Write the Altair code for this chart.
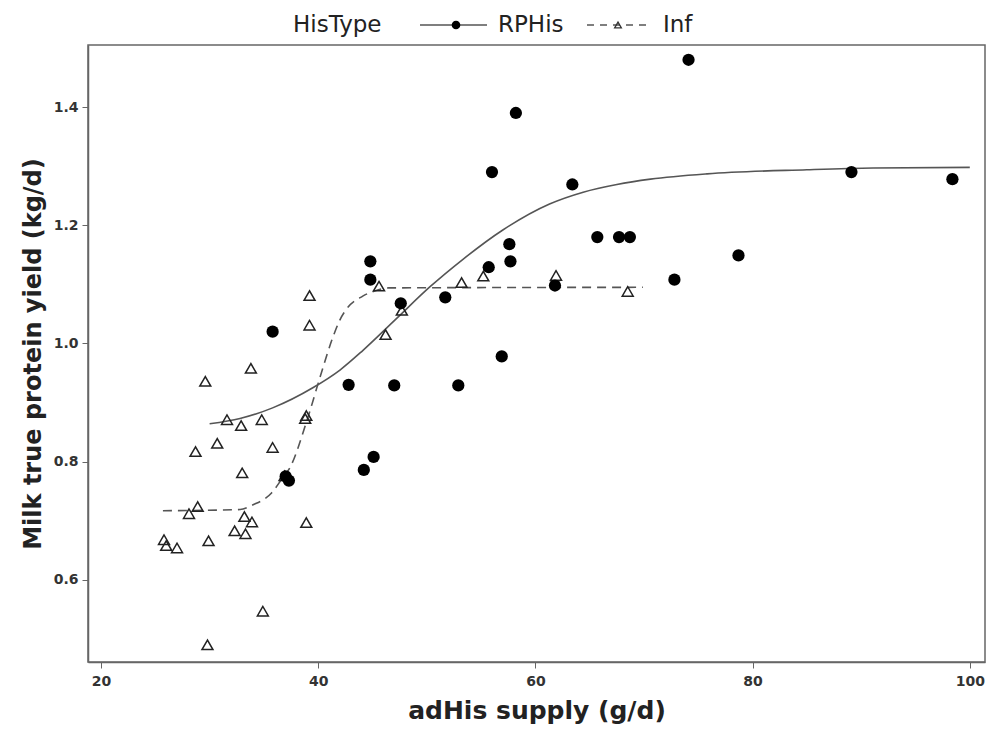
import altair as alt
import pandas as pd

# RPHis observations (filled circles)
rp_x = [35.8, 37.0, 37.3, 42.8, 44.2, 45.1, 44.8, 44.8, 47.0, 47.6, 51.7, 52.9, 55.7, 56.0,
        56.9, 57.6, 57.7, 58.2, 61.8, 63.4, 65.7, 67.7, 68.7, 72.8, 74.1, 78.7, 89.1, 98.4]
rp_y = [1.020, 0.775, 0.768, 0.930, 0.786, 0.808, 1.139, 1.108, 0.929, 1.068, 1.078, 0.929, 1.129, 1.290,
        0.978, 1.168, 1.139, 1.390, 1.098, 1.269, 1.180, 1.180, 1.180, 1.108, 1.480, 1.149, 1.290, 1.278]

# Inf observations (open triangles)
inf_x = [25.8, 26.0, 27.0, 28.1, 28.9, 28.7, 29.6, 29.9, 29.8, 30.7, 31.6, 32.3, 32.9, 33.0,
         33.2, 33.3, 33.9, 33.8, 34.8, 34.9, 35.8, 36.9, 38.8, 38.9, 38.9, 39.2, 39.2, 45.6,
         46.2, 47.7, 53.2, 55.2, 61.9, 68.5]
inf_y = [0.668, 0.658, 0.654, 0.712, 0.724, 0.817, 0.936, 0.666, 0.490, 0.831, 0.871, 0.683, 0.861, 0.781,
         0.707, 0.678, 0.698, 0.958, 0.871, 0.547, 0.824, 0.776, 0.873, 0.878, 0.697, 1.081, 1.031, 1.097,
         1.015, 1.056, 1.103, 1.114, 1.115, 1.088]

# fitted curves
rp_fit_x = [30.0, 32.8, 35.8, 39.5, 42.0, 44.1, 47.2, 50.3, 53.3, 57.0, 61.3, 64.4, 67.5, 70.6,
            75.8, 85.0, 91.1, 100.0]
rp_fit_y = [0.864, 0.873, 0.891, 0.925, 0.955, 0.988, 1.042, 1.096, 1.142, 1.192, 1.236, 1.256, 1.269, 1.278,
            1.287, 1.294, 1.297, 1.298]

inf_fit_x = [25.7, 32.8, 34.0, 35.7, 36.7, 37.4, 38.9, 40.3, 41.3, 42.0, 42.6, 44.1, 45.4, 46.5, 69.9]
inf_fit_y = [0.717, 0.719, 0.727, 0.747, 0.772, 0.790, 0.866, 0.951, 1.008, 1.040, 1.058, 1.080, 1.090, 1.094, 1.095]

x_ticks = [20, 40, 60, 80, 100]
y_ticks = [0.6, 0.8, 1.0, 1.2, 1.4]

FONT = "DejaVu Sans"
W, H = 897, 617

xs = alt.Scale(domain=[18.8, 101.4], nice=False, zero=False)
ys = alt.Scale(domain=[0.461, 1.505], nice=False, zero=False)

xax = alt.Axis(values=x_ticks, title="adHis supply (g/d)", grid=False, format="d",
               labelFont=FONT, labelFontSize=14, labelFontWeight="bold", labelColor="#333",
               titleFont=FONT, titleFontSize=25, titleFontWeight="bold", titleColor="#222",
               titlePadding=10, tickSize=6, tickColor="#666", domainColor="#666", domainWidth=1.5,
               labelPadding=6)
yax = alt.Axis(values=y_ticks, title="Milk true protein yield (kg/d)", grid=False, format=".1f",
               labelFont=FONT, labelFontSize=14, labelFontWeight="bold", labelColor="#333",
               titleFont=FONT, titleFontSize=24, titleFontWeight="bold", titleColor="#222",
               titlePadding=8, tickSize=6, tickColor="#666", domainColor="#666", domainWidth=1.5,
               labelPadding=4)

rp_df = pd.DataFrame({"x": rp_x, "y": rp_y})
inf_df = pd.DataFrame({"x": inf_x, "y": inf_y})
rpf_df = pd.DataFrame({"x": rp_fit_x, "y": rp_fit_y})
inff_df = pd.DataFrame({"x": inf_fit_x, "y": inf_fit_y})

rp_line = alt.Chart(rpf_df).mark_line(color="#555", strokeWidth=1.6, interpolate="monotone").encode(
    x=alt.X("x:Q", scale=xs, axis=xax), y=alt.Y("y:Q", scale=ys, axis=yax))
inf_line = alt.Chart(inff_df).mark_line(color="#555", strokeWidth=1.6, strokeDash=[9, 6],
                                        interpolate="monotone").encode(
    x=alt.X("x:Q", scale=xs), y=alt.Y("y:Q", scale=ys))
inf_pts = alt.Chart(inf_df).mark_point(shape="triangle-up", filled=False, color="#222", opacity=1,
                                       strokeWidth=1.5, size=120).encode(
    x=alt.X("x:Q", scale=xs), y=alt.Y("y:Q", scale=ys))
rp_pts = alt.Chart(rp_df).mark_point(shape="circle", filled=True, color="black", opacity=1,
                                     size=150).encode(
    x=alt.X("x:Q", scale=xs), y=alt.Y("y:Q", scale=ys))

# manual legend above the plot
one = pd.DataFrame({"a": [0]})
LY = -20
LFS = 23
leg_title = alt.Chart(one).mark_text(text="HisType", font=FONT, fontSize=LFS, align="left",
                                     baseline="middle", color="#222").encode(
    x=alt.value(205), y=alt.value(LY))
leg_rp_line = alt.Chart(one).mark_rule(color="#555", strokeWidth=1.6).encode(
    x=alt.value(332), x2=alt.value(399), y=alt.value(LY))
leg_rp_pt = alt.Chart(one).mark_point(shape="circle", filled=True, color="black", opacity=1,
                                      size=75).encode(x=alt.value(368), y=alt.value(LY))
leg_rp_txt = alt.Chart(one).mark_text(text="RPHis", font=FONT, fontSize=LFS, align="left",
                                      baseline="middle", color="#222").encode(
    x=alt.value(410), y=alt.value(LY))
leg_inf_line = alt.Chart(one).mark_rule(color="#555", strokeWidth=1.6, strokeDash=[7, 6]).encode(
    x=alt.value(499), x2=alt.value(562), y=alt.value(LY))
leg_inf_pt = alt.Chart(one).mark_point(shape="triangle-up", filled=False, color="#333", opacity=1,
                                       strokeWidth=1.3, size=45).encode(x=alt.value(530), y=alt.value(LY))
leg_inf_txt = alt.Chart(one).mark_text(text="Inf", font=FONT, fontSize=LFS, align="left",
                                       baseline="middle", color="#222").encode(
    x=alt.value(575), y=alt.value(LY))

chart = alt.layer(
    rp_line, inf_line, inf_pts, rp_pts,
    leg_title, leg_rp_line, leg_rp_pt, leg_rp_txt, leg_inf_line, leg_inf_pt, leg_inf_txt
).properties(
    width=W, height=H,
    padding={"left": 88, "top": 45, "right": 4, "bottom": 68},
    autosize=alt.AutoSizeParams(type="none"),
    background="white",
).configure_view(
    stroke="#666", strokeWidth=1.5, clip=False
)

chart.save("out.html", embed_options={"renderer": "svg", "actions": False})
